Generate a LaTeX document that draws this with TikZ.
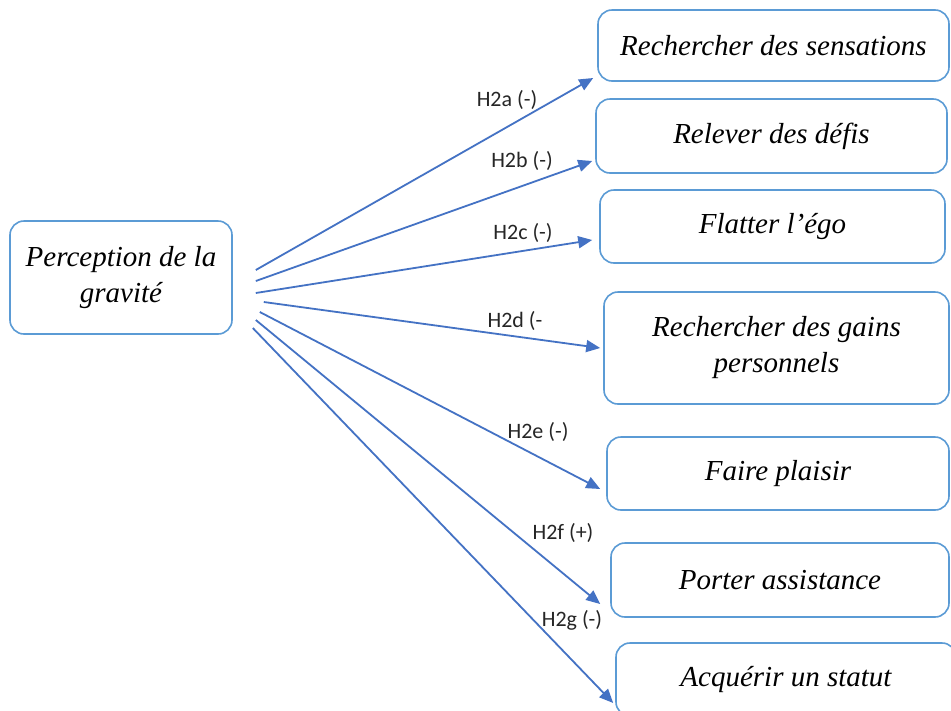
\documentclass[tikz,border=0pt]{standalone}
\usepackage{fontspec}
\setmainfont{Liberation Serif}
\newfontfamily\lblfont{Carlito}
\usetikzlibrary{arrows.meta,calc}
\definecolor{boxblue}{RGB}{91,155,213}
\definecolor{arrowblue}{RGB}{68,114,196}
\tikzset{
  stepbox/.style={draw=boxblue, line width=1.6pt, rounded corners=14pt, fill=white,
    inner sep=0pt, align=center, font=\fontsize{29}{36}\selectfont\itshape},
  conn/.style={draw=arrowblue, line width=1.8pt, -{Triangle[length=14pt,width=12pt]}},
  lbl/.style={font=\lblfont\fontsize{22}{26}\selectfont, inner sep=0pt, text=black!85}
}
\begin{document}
\begin{tikzpicture}[x=1pt,y=-1pt]
\useasboundingbox (0,0) rectangle (951,710);
\fill[white] (0,0) rectangle (951,710);

\node[stepbox, minimum width=222pt, minimum height=113pt] (L) at (121,277.5) {Perception de la\\gravité};

\node[stepbox, minimum width=351pt, minimum height=71pt] (b1) at (773.5,45.5) {Rechercher des sensations};
\node[stepbox, minimum width=351pt, minimum height=74pt] (b2) at (771.5,136) {Relever des défis};
\node[stepbox, minimum width=345pt, minimum height=73pt] (b3) at (772.5,226.5) {Flatter l’égo};
\node[stepbox, minimum width=345pt, minimum height=112pt] (b4) at (776.5,348) {Rechercher des gains\\personnels};
\node[stepbox, minimum width=342pt, minimum height=73pt] (b5) at (778,473.5) {Faire plaisir};
\node[stepbox, minimum width=338pt, minimum height=74pt] (b6) at (780,580) {Porter assistance};
\node[stepbox, minimum width=340pt, minimum height=73pt] (b7) at (786,679.5) {Acquérir un statut};

\coordinate (s1) at ($(L.east)+(23,-7.5)$);
\coordinate (s2) at ($(L.east)+(23,3.5)$);
\coordinate (s3) at ($(L.east)+(23,15.5)$);
\coordinate (s4) at ($(L.east)+(31,24.5)$);
\coordinate (s5) at ($(L.east)+(27,34.5)$);
\coordinate (s6) at ($(L.east)+(23,42.5)$);
\coordinate (s7) at ($(L.east)+(20,50.5)$);

\draw[conn] (s1) -- ($(b1.west)+(-4,32.5)$);
\draw[conn] (s2) -- ($(b2.west)+(-3,25)$);
\draw[conn] (s3) -- ($(b3.west)+(-7,13.5)$);
\draw[conn] (s4) -- ($(b4.west)+(-3,0)$);
\draw[conn] (s5) -- ($(b5.west)+(-6,15.5)$);
\draw[conn] (s6) -- ($(b6.west)+(-10,24)$);
\draw[conn] (s7) -- ($(b7.west)+(-2,23.5)$);

\node[lbl] (l1) at (507,100) {H2a (-)};
\node[lbl] (l2) at (522,161) {H2b (-)};
\node[lbl] (l3) at (523,233) {H2c (-)};
\node[lbl] (l4) at (515,321) {H2d (-};
\node[lbl] (l5) at (538,432) {H2e (-)};
\node[lbl] (l6) at (563,533) {H2f (+)};
\node[lbl] (l7) at (572,620) {H2g (-)};
\end{tikzpicture}
\end{document}
